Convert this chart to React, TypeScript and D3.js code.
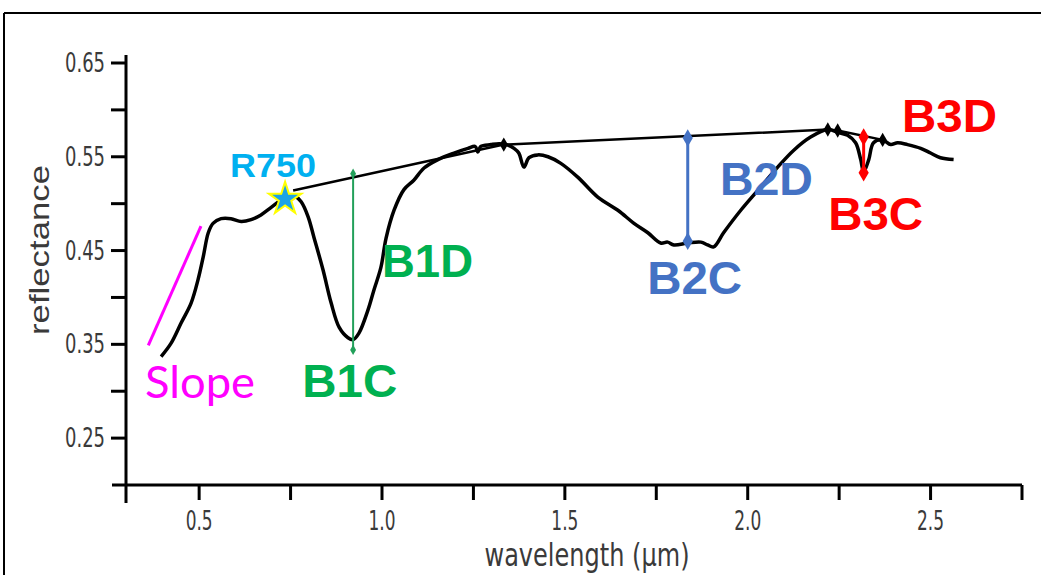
import * as d3 from "d3";

// spectrum (wavelength in µm, reflectance)
const wavelength = [
  0.396, 0.423, 0.451, 0.478, 0.497, 0.511, 0.525, 0.538, 0.56, 0.587, 0.615,
  0.642, 0.669, 0.697, 0.724, 0.745, 0.762, 0.779, 0.798, 0.814, 0.839, 0.861,
  0.883, 0.907, 0.921, 0.937, 0.962, 0.978, 0.997, 1.011, 1.033, 1.06, 1.087,
  1.115, 1.153, 1.197, 1.235, 1.255, 1.262, 1.27, 1.298, 1.32, 1.34, 1.361,
  1.374, 1.388, 1.402, 1.426, 1.454, 1.489, 1.536, 1.59, 1.645, 1.689, 1.727,
  1.762, 1.781, 1.798, 1.836, 1.872, 1.89, 1.907, 1.934, 1.981, 2.036, 2.082,
  2.126, 2.172, 2.219, 2.246, 2.273, 2.295, 2.309, 2.317, 2.331, 2.344, 2.369,
  2.391, 2.41, 2.437, 2.473, 2.5, 2.527, 2.563,
];
const reflectance = [
  0.337, 0.351, 0.373, 0.394, 0.419, 0.443, 0.469, 0.479, 0.484, 0.484, 0.481,
  0.483, 0.488, 0.496, 0.504, 0.509, 0.508, 0.502, 0.486, 0.464, 0.429, 0.394,
  0.368, 0.357, 0.355, 0.362, 0.387, 0.408, 0.432, 0.463, 0.493, 0.515, 0.525,
  0.538, 0.547, 0.554, 0.559, 0.561, 0.555, 0.561, 0.563, 0.564, 0.563, 0.559,
  0.554, 0.539, 0.549, 0.552, 0.55, 0.543, 0.528, 0.507, 0.493, 0.479, 0.469,
  0.458, 0.459, 0.456, 0.458, 0.459, 0.456, 0.454, 0.469, 0.493, 0.518, 0.539,
  0.557, 0.571, 0.579, 0.576, 0.573, 0.565, 0.547, 0.534, 0.547, 0.565, 0.568,
  0.563, 0.565, 0.563, 0.559, 0.554, 0.549, 0.547,
];

// continuum hull nodes
const hullWl = [0.757, 1.333, 2.219, 2.246, 2.369];
const hullR = [0.514, 0.563, 0.579, 0.578, 0.568];

// band depth markers
const bandNames = ["B1", "B2", "B3"];
const bandWl = [0.921, 1.836, 2.317];
const bandTop = [0.532, 0.57, 0.571];
const bandBottom = [0.344, 0.46, 0.533];
const bandColors = ["#22a05a", "#4472c4", "#ff0000"];

// slope segment & R750 point
const slopeWl = [0.361, 0.505];
const slopeR = [0.349, 0.476];
const r750 = [0.735, 0.505];

// annotation text (anchor in data units)
const labels = [
  { text: "R750", wl: 0.702, r: 0.528, color: "#00b0f0", size: 33, anchor: "middle", len: 86 },
  { text: "B1D", wl: 1.0, r: 0.422, color: "#00b050", size: 46, anchor: "start", len: 91 },
  { text: "B1C", wl: 0.782, r: 0.294, color: "#00b050", size: 46, anchor: "start", len: 95 },
  { text: "B2D", wl: 1.924, r: 0.509, color: "#4472c4", size: 46, anchor: "start", len: 93 },
  { text: "B2C", wl: 1.725, r: 0.404, color: "#4472c4", size: 46, anchor: "start", len: 95 },
  { text: "B3C", wl: 2.22, r: 0.472, color: "#ff0000", size: 46, anchor: "start", len: 95 },
  { text: "B3D", wl: 2.422, r: 0.576, color: "#ff0000", size: 46, anchor: "start", len: 95 },
];

const yTicks = [0.25, 0.3, 0.35, 0.4, 0.45, 0.5, 0.55, 0.6, 0.65];
const yTickLabels = ["0.25", "0.35", "0.45", "0.55", "0.65"];
const xTicks = [0.5, 0.75, 1.0, 1.25, 1.5, 1.75, 2.0, 2.25, 2.5, 2.75];
const xTickLabels = ["0.5", "1.0", "1.5", "2.0", "2.5"];

const W = 1041;
const H = 575;
const axisColor = "#000";
const textColor = "#3a3a3a";
const narrow = "'Liberation Sans Narrow', 'DejaVu Sans Condensed', sans-serif";
const bold = "'Liberation Sans', Arial, sans-serif";

export default function App() {
  const x = d3.scaleLinear().domain([0.3, 2.75]).range([126, 1022]);
  const y = d3.scaleLinear().domain([0.2, 0.65]).range([485, 63]);

  const spectrum = wavelength.map((w, i) => [w, reflectance[i]]);
  const line = d3
    .line()
    .x((d) => x(d[0]))
    .y((d) => y(d[1]))
    .curve(d3.curveCatmullRom.alpha(0.5));
  const hullLine = d3
    .line()
    .x((d) => x(d[0]))
    .y((d) => y(d[1]));
  const hull = hullWl.map((w, i) => [w, hullR[i]]);

  const diamond = (s) => d3.symbol().type(d3.symbolDiamond).size(s)();
  const star = d3.symbol().type(d3.symbolStar).size(330)();

  const x0 = x(0.3);
  const yBase = y(0.2);

  return (
    <svg
      width={W}
      height={H}
      style={{ position: "absolute", left: 0, top: 0, background: "#fff" }}
    >
      {/* frame */}
      <line x1={4} x2={W} y1={13} y2={13} stroke="#000" strokeWidth={2} />
      <line x1={4} x2={4} y1={13} y2={H} stroke="#000" strokeWidth={2} />

      {/* y axis */}
      <line x1={x0} x2={x0} y1={y(0.6585)} y2={yBase + 18} stroke={axisColor} strokeWidth={3} />
      {yTicks.map((t) => (
        <line key={t} x1={x0 - 15} x2={x0} y1={y(t)} y2={y(t)} stroke={axisColor} strokeWidth={3} />
      ))}
      {yTickLabels.map((t) => (
        <text
          key={t}
          x={x0 - 21}
          y={y(+t) + 9}
          textAnchor="end"
          fontFamily={narrow}
          fontSize={27}
          fill={textColor}
          textLength={40}
          lengthAdjust="spacingAndGlyphs"
        >
          {t}
        </text>
      ))}
      <text
        transform={`translate(49, 250) rotate(-90)`}
        textAnchor="middle"
        fontFamily="'Liberation Sans', sans-serif"
        fontSize={28}
        fill={textColor}
        textLength={170}
        lengthAdjust="spacingAndGlyphs"
      >
        reflectance
      </text>

      {/* x axis */}
      <line x1={x0 - 14} x2={x(2.75)} y1={yBase} y2={yBase} stroke={axisColor} strokeWidth={3} />
      {xTicks.map((t) => (
        <line key={t} x1={x(t)} x2={x(t)} y1={yBase} y2={yBase + 15} stroke={axisColor} strokeWidth={3} />
      ))}
      {xTickLabels.map((t) => (
        <text
          key={t}
          x={x(+t)}
          y={530}
          textAnchor="middle"
          fontFamily={narrow}
          fontSize={27}
          fill={textColor}
          textLength={27}
          lengthAdjust="spacingAndGlyphs"
        >
          {t}
        </text>
      ))}
      <text
        x={587}
        y={566}
        textAnchor="middle"
        fontFamily={narrow}
        fontSize={32}
        fill={textColor}
        textLength={205}
        lengthAdjust="spacingAndGlyphs"
      >
        wavelength (µm)
      </text>

      {/* slope */}
      <line
        x1={x(slopeWl[0])}
        y1={y(slopeR[0])}
        x2={x(slopeWl[1])}
        y2={y(slopeR[1])}
        stroke="#ff00ff"
        strokeWidth={3}
      />
      <text
        x={x(0.352)}
        y={y(0.293)}
        fontFamily="Lato, 'Liberation Sans', sans-serif"
        fontSize={44}
        fill="#ff00ff"
        textLength={110}
        lengthAdjust="spacingAndGlyphs"
      >
        Slope
      </text>

      {/* spectrum */}
      <path d={line(spectrum)} fill="none" stroke="#000" strokeWidth={3.5} strokeLinejoin="round" />

      {/* continuum */}
      <path d={hullLine(hull)} fill="none" stroke="#000" strokeWidth={2.5} />
      {hull.slice(1).map((d, i) => (
        <path key={i} d={diamond(60)} transform={`translate(${x(d[0])},${y(d[1])})`} fill="#000" />
      ))}

      {/* band depth markers */}
      {bandNames.map((b, i) => (
        <g key={b}>
          <line
            x1={x(bandWl[i])}
            x2={x(bandWl[i])}
            y1={y(bandTop[i])}
            y2={y(bandBottom[i])}
            stroke={bandColors[i]}
            strokeWidth={i === 0 ? 2 : 3}
          />
          <path
            d={diamond(i === 0 ? 30 : 90)}
            transform={`translate(${x(bandWl[i])},${y(bandTop[i])})`}
            fill={bandColors[i]}
          />
          <path
            d={diamond(i === 0 ? 30 : 90)}
            transform={`translate(${x(bandWl[i])},${y(bandBottom[i])})`}
            fill={bandColors[i]}
          />
        </g>
      ))}

      {/* R750 star */}
      <path
        d={star}
        transform={`translate(${x(r750[0])},${y(r750[1])})`}
        fill="#1aa3e8"
        stroke="#ffff00"
        strokeWidth={2}
      />

      {labels.map((l) => (
        <text
          key={l.text}
          x={x(l.wl)}
          y={y(l.r)}
          textAnchor={l.anchor}
          fontFamily={bold}
          fontWeight="bold"
          fontSize={l.size}
          fill={l.color}
          textLength={l.len}
          lengthAdjust="spacingAndGlyphs"
        >
          {l.text}
        </text>
      ))}
    </svg>
  );
}
